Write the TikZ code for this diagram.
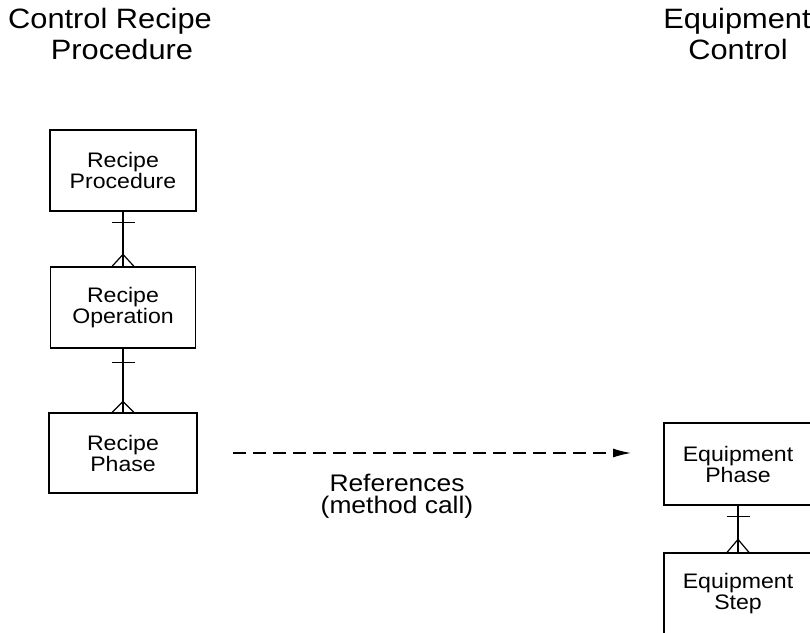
\documentclass[tikz,border=0pt]{standalone}
\usepackage{fontspec}
\setmainfont[FakeStretch=1.1]{Liberation Sans}
\usetikzlibrary{arrows.meta}
\tikzset{
  ent/.style={draw, line width=1.2pt, minimum width=146pt, minimum height=81pt, inner sep=0pt,
    align=center, font=\fontsize{21}{21}\selectfont},
  ttl/.style={align=center, inner sep=0pt, font=\fontsize{28}{28}\selectfont},
  lbl/.style={align=center, inner sep=0pt, font=\fontsize{24}{22}\selectfont},
  rel/.style={line width=1.2pt},
  refarrow/.style={line width=1.3pt, dash pattern=on 13pt off 7pt, -{Latex[length=18pt,width=9pt]}}
}
\newcommand\erlink[4]{% from, to, bar offset, crow height
  \draw[rel] (#1.south) -- (#2.north);
  \draw[rel] ([xshift=-11.5pt,yshift=-#3]#1.south) -- ([xshift=11.5pt,yshift=-#3]#1.south);
  \draw[rel] ([xshift=-11pt]#2.north) -- ([yshift=#4]#2.north) -- ([xshift=11pt]#2.north);
}
\begin{document}
\begin{tikzpicture}[x=1pt,y=-1pt]
\clip (0,0) rectangle (810,632);
\fill[white] (0,0) rectangle (810,632);

\node[ttl] (t1) at (110,21) {Control Recipe};
\node[ttl] (t1b) at (122,49) {Procedure};
\node[ttl] (t2) at (737,21) {Equipment};
\node[ttl] (t2b) at (738,49) {Control};

\node[ent] (rp) at (123,170.5) {Recipe\\Procedure};
\node[ent, minimum width=145pt] (ro) at (123,307.5) {Recipe\\Operation};
\node[ent, minimum width=148pt, minimum height=80pt] (rph) at (123,453) {Recipe\\Phase};
\node[ent, minimum width=148pt, minimum height=82pt] (ep) at (738,464) {Equipment\\Phase};
\node[ent, minimum width=148pt, minimum height=82pt] (es) at (738,594) {Equipment\\Step};

\erlink{rp}{ro}{11pt}{12pt}
\erlink{ro}{rph}{14pt}{11pt}
\erlink{ep}{es}{11pt}{13pt}

\coordinate (as) at (233,453);
\coordinate (ae) at (631,453);
\draw[refarrow] (as) -- (ae);
\node[lbl] (ref) at (397,496) {References\\(method call)};
\end{tikzpicture}
\end{document}
